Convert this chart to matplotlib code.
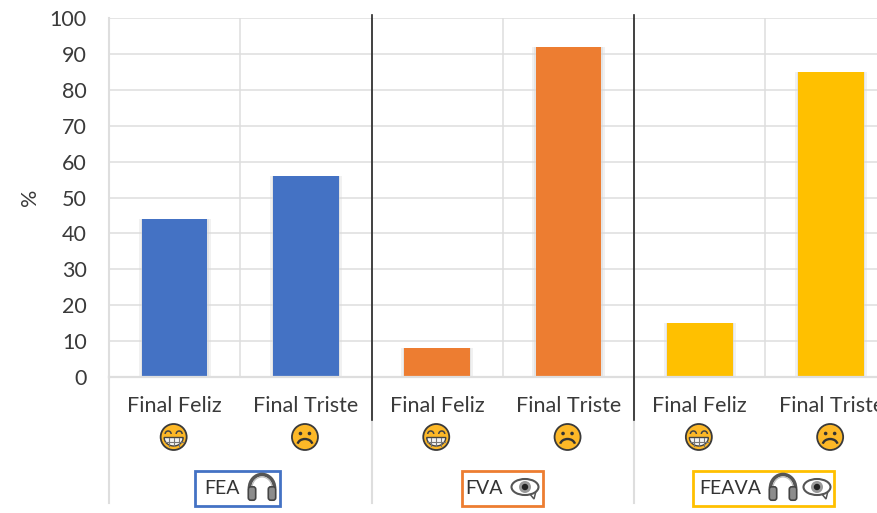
"""Bar chart of happy vs sad endings per condition, with hand drawn icons."""

import matplotlib

matplotlib.use("Agg")

import matplotlib.pyplot as plt
import numpy as np
from matplotlib.patches import Arc, Circle, Ellipse, FancyBboxPatch, Polygon, Rectangle

CATEGORIES = ["Final Feliz", "Final Triste"] * 3
VALUES = [44, 56, 8, 92, 15, 85]
BAR_COLORS = ["#4472C4", "#4472C4", "#ED7D31", "#ED7D31", "#FFC000", "#FFC000"]
GROUPS = ["FEA", "FVA", "FEAVA"]
GROUP_COLORS = ["#4472C4", "#ED7D31", "#FFC000"]
YTICKS = list(range(0, 101, 10))

GRID = "#DEDEDE"
TEXT = "#3A3A3A"
FACE = "#FDB827"
FONT = "Lato"


def draw_face(ax, x, y, happy):
    ax.add_patch(Circle((x, y), 13, fc=FACE, ec="#3A3A3A", lw=1.3))
    if happy:
        ax.add_patch(Arc((x - 5.5, y - 3), 6, 6, theta1=180, theta2=360, ec="#444444", lw=1.1))
        ax.add_patch(Arc((x + 5.5, y - 3), 6, 6, theta1=180, theta2=360, ec="#444444", lw=1.1))
        t = np.linspace(0, np.pi, 30)
        mx = x + 9.5 * np.cos(t)
        my = y + 0.5 + 8.5 * np.sin(t)
        ax.add_patch(Polygon(np.c_[mx, my], fc="#F4F4F4", ec="#444444", lw=1))
        for dx in (-5, 0, 5):
            ax.plot([x + dx, x + dx], [y + 1, y + 8.5], color="#777777", lw=0.8)
        ax.plot([x - 9, x + 9], [y + 4.5, y + 4.5], color="#777777", lw=0.8)
    else:
        ax.add_patch(Circle((x - 4.5, y - 3.5), 1.8, fc="#333333", ec="none"))
        ax.add_patch(Circle((x + 4.5, y - 3.5), 1.8, fc="#333333", ec="none"))
        ax.add_patch(Arc((x, y + 8), 15, 12, theta1=190, theta2=350, ec="#333333", lw=1.7))


def draw_headphones(ax, x, y):
    ax.add_patch(Arc((x, y + 1), 25, 27, theta1=180, theta2=360, ec="#555555", lw=2.6, zorder=5))
    ax.add_patch(Arc((x, y + 1), 20, 22, theta1=180, theta2=360, ec="#BBBBBB", lw=0.8, zorder=5))
    for side in (-1, 1):
        ax.add_patch(
            FancyBboxPatch(
                (x + side * 10 - 2.5, y + 1),
                5,
                11,
                boxstyle="round,pad=1.2,rounding_size=2.5",
                fc="#8C8C8C",
                ec="#444444",
                lw=1.2,
                zorder=5,
            )
        )


def draw_eye(ax, x, y):
    ax.add_patch(
        Polygon([(x + 4, y + 6), (x + 9, y + 12), (x + 11, y + 4)], fc="white", ec="#555555", lw=1.1, zorder=5)
    )
    ax.add_patch(Ellipse((x, y), 27, 16, fc="white", ec="#555555", lw=1.5, zorder=5))
    ax.add_patch(Circle((x, y), 6, fc="#999999", ec="none", zorder=6))
    ax.add_patch(Circle((x, y), 3.2, fc="#222222", ec="none", zorder=6))


fig = plt.figure(figsize=(8.78, 5.13), dpi=100)
ax = fig.add_axes([109 / 878, 1 - 377 / 513, 769 / 878, 359 / 513])

x = np.arange(len(VALUES))
# soft shadow round the bars
ax.bar(x, VALUES, width=0.55, color="#D8D8D8", alpha=0.35, zorder=2)
ax.bar(x, VALUES, width=0.52, color="#D8D8D8", alpha=0.5, zorder=2)
ax.bar(x, VALUES, width=0.5, color=BAR_COLORS, zorder=3)

ax.set_xlim(-0.5, 5.357)
ax.set_ylim(0, 100)
ax.set_yticks(YTICKS)
ax.set_xticks(np.arange(0.5, 5.5, 1))
ax.set_xticklabels([])
ax.grid(True, color=GRID, lw=1.1, zorder=0)
ax.set_axisbelow(True)
ax.tick_params(axis="both", length=0, pad=16, labelsize=15.5, labelcolor=TEXT)
for label in ax.get_yticklabels():
    label.set_fontfamily(FONT)
for side in ("top", "right", "bottom"):
    ax.spines[side].set_visible(False)
ax.spines["left"].set_color(GRID)
ax.spines["left"].set_linewidth(1.5)
ax.axhline(0, color=GRID, lw=1.6, zorder=4, clip_on=False)

# overlay in pixel coordinates for the multi-level axis and the icons
ov = fig.add_axes([0, 0, 1, 1], facecolor="none")
ov.set_xlim(0, 878)
ov.set_ylim(513, 0)
ov.axis("off")

ov.text(30, 197, "%", rotation=90, ha="center", va="center", fontsize=15.5, color=TEXT, family=FONT)

for px in (109, 372, 634):
    ov.plot([px, px], [377, 503], color=GRID, lw=1.5, zorder=1)
for px in (372, 634):
    ov.plot([px, px], [15, 420], color="#262626", lw=1.2, zorder=2)

centers = [109 + 131.3 * (i + 0.5) for i in range(len(CATEGORIES))]
for i, (cx, name) in enumerate(zip(centers, CATEGORIES)):
    ov.text(cx, 406.5, name, ha="center", va="center", fontsize=15.5, color=TEXT, family=FONT)
    draw_face(ov, cx - 1, 437, i % 2 == 0)

boxes = [(195, 280), (462, 543), (693, 834)]
text_x = [204, 465, 699]
for name, color, (x0, x1), tx in zip(GROUPS, GROUP_COLORS, boxes, text_x):
    ov.add_patch(Rectangle((x0, 471), x1 - x0, 35, fc="white", ec=color, lw=2, zorder=3))
    ov.text(tx, 488, name, ha="left", va="center", fontsize=14, color="#333333", family=FONT, zorder=4)

draw_headphones(ov, 262, 487)
draw_eye(ov, 525, 487)
draw_headphones(ov, 783, 487)
draw_eye(ov, 817, 487)

fig.savefig("out.png", dpi=100)
